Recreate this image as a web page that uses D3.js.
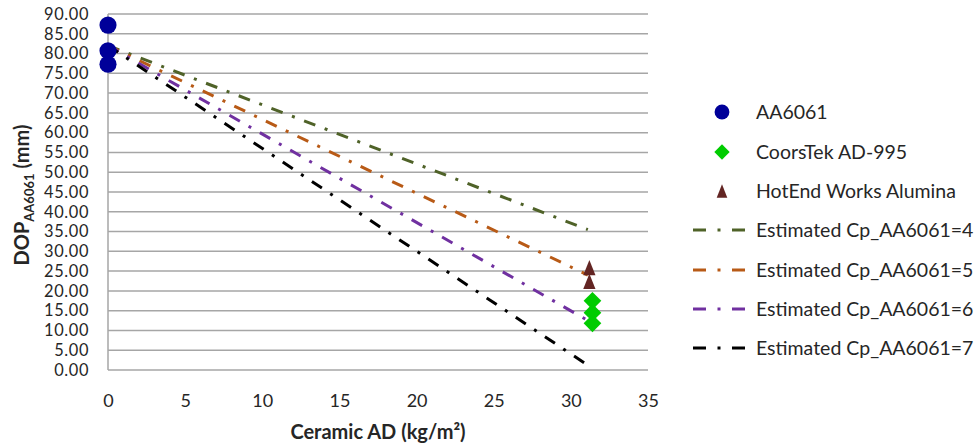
<!DOCTYPE html>
<html>
<head>
<meta charset="utf-8">
<script src="https://cdn.jsdelivr.net/npm/d3@7"></script>
<style>
  body { margin: 0; background: #fff; }
  svg { font-family: Lato, "Open Sans", sans-serif; }
</style>
</head>
<body>
<svg id="chart"></svg>
<script>
// measured data
var aa6061X = [0, 0, 0];
var aa6061Y = [87.2, 80.7, 77.3];
var coorsX = [31.4, 31.4, 31.4];
var coorsY = [17.5, 14.5, 11.8];
var hotendX = [31.2, 31.2];
var hotendY = [25.9, 22.4];

// estimated lines: start and end
var estX = [0, 31.1];
var est4 = [82, 35.5];
var est5 = [82, 24.0];
var est6 = [82, 12.5];
var est7 = [82, 1.2];

var xTicks = [0, 5, 10, 15, 20, 25, 30, 35];
var yTicks = d3.range(0, 91, 5);

var w = 979;
var h = 446;

var svg = d3.select("#chart")
    .attr("width", w)
    .attr("height", h);

svg.append("rect").attr("width", w).attr("height", h).attr("fill", "#fff");

var x = d3.scaleLinear().domain([0, 35]).range([108, 648]);
var y = d3.scaleLinear().domain([0, 90]).range([370, 14]);

// gridlines
svg.append("g")
    .selectAll("line")
    .data(yTicks)
    .enter()
    .append("line")
    .attr("x1", x(0))
    .attr("x2", x(35))
    .attr("y1", function (d) { return y(d); })
    .attr("y2", function (d) { return y(d); })
    .style("stroke", "#a6a6a6")
    .style("stroke-width", 1.5);

// left axis line
svg.append("line")
    .attr("x1", x(0)).attr("x2", x(0))
    .attr("y1", y(0)).attr("y2", y(90))
    .style("stroke", "#a6a6a6")
    .style("stroke-width", 1.5);

// axes
var xAxis = svg.append("g")
    .attr("transform", "translate(0," + y(0) + ")")
    .call(d3.axisBottom(x).tickValues(xTicks).tickSize(0).tickPadding(24));
var yAxis = svg.append("g")
    .attr("transform", "translate(" + x(0) + ",0)")
    .call(d3.axisLeft(y).tickValues(yTicks).tickFormat(d3.format(".2f")).tickSize(0).tickPadding(19));

xAxis.select(".domain").remove();
yAxis.select(".domain").remove();
xAxis.selectAll("text")
    .style("font-family", "Lato, sans-serif")
    .style("font-size", "18px")
    .style("fill", "#262626");
yAxis.selectAll("text")
    .style("font-family", "Lato, sans-serif")
    .style("font-size", "16.4px")
    .style("letter-spacing", "0.6px")
    .style("fill", "#262626");

// estimated lines
var lineSeries = [
    { name: "Estimated Cp_AA6061=4", vals: est4, color: "#4f6228" },
    { name: "Estimated Cp_AA6061=5", vals: est5, color: "#b85a16" },
    { name: "Estimated Cp_AA6061=6", vals: est6, color: "#7030a0" },
    { name: "Estimated Cp_AA6061=7", vals: est7, color: "#000000" }
];
var dash = "12,10,3,10";

var line = d3.line()
    .x(function (d) { return x(d[0]); })
    .y(function (d) { return y(d[1]); });

lineSeries.forEach(function (s) {
    var pts = estX.map(function (v, i) { return [v, s.vals[i]]; });
    svg.append("path")
        .datum(pts)
        .attr("d", line)
        .style("fill", "none")
        .style("stroke", s.color)
        .style("stroke-width", 3)
        .style("stroke-dasharray", dash);
});

// isosceles triangle symbol
var triType = {
    draw: function (ctx, size) {
        var hw = Math.sqrt(size) / 2;
        ctx.moveTo(0, -hw * 1.25);
        ctx.lineTo(hw, hw * 1.25);
        ctx.lineTo(-hw, hw * 1.25);
        ctx.closePath();
    }
};

var markers = [
    { name: "AA6061", xs: aa6061X, ys: aa6061Y, color: "#000099", type: d3.symbolCircle, size: 230 },
    { name: "CoorsTek AD-995", xs: coorsX, ys: coorsY, color: "#00cc00", type: d3.symbolDiamond2, size: 200 },
    { name: "HotEnd Works Alumina", xs: hotendX, ys: hotendY, color: "#632523", type: triType, size: 150 }
];

markers.forEach(function (m) {
    svg.append("g")
        .selectAll("path")
        .data(m.ys)
        .enter()
        .append("path")
        .attr("d", d3.symbol().type(m.type).size(m.size))
        .attr("transform", function (d, i) { return "translate(" + x(m.xs[i]) + "," + y(d) + ")"; })
        .style("fill", m.color);
});

// legend
var legend = svg.append("g");
var rowY = [112, 152, 191, 230, 270, 309, 348];

markers.forEach(function (m, i) {
    legend.append("path")
        .attr("d", d3.symbol().type(m.type).size(m.size * 0.75))
        .attr("transform", "translate(722," + rowY[i] + ")")
        .style("fill", m.color);
    legend.append("text")
        .attr("x", 756).attr("y", rowY[i])
        .attr("dy", "0.35em")
        .style("font-size", "19.5px")
        .style("fill", "#262626")
        .text(m.name);
});

lineSeries.forEach(function (s, i) {
    var ly = rowY[i + 3];
    legend.append("line")
        .attr("x1", 693).attr("x2", 746)
        .attr("y1", ly).attr("y2", ly)
        .style("stroke", s.color)
        .style("stroke-width", 3)
        .style("stroke-dasharray", "13,11.5,3,11.5");
    legend.append("text")
        .attr("x", 756).attr("y", ly)
        .attr("dy", "0.35em")
        .style("font-size", "19.5px")
        .style("fill", "#262626")
        .text(s.name);
});

// axis titles
svg.append("text")
    .attr("x", 378).attr("y", 439)
    .attr("text-anchor", "middle")
    .style("font-weight", "bold")
    .style("font-size", "20px")
    .style("fill", "#262626")
    .text("Ceramic AD (kg/m²)");

var yt = svg.append("text")
    .attr("transform", "translate(29,195) rotate(-90)")
    .attr("text-anchor", "middle")
    .style("font-weight", "bold")
    .style("font-size", "20px")
    .style("fill", "#262626");
yt.append("tspan").text("DOP");
yt.append("tspan").attr("dy", 5).style("font-size", "13px").text("AA6061");
yt.append("tspan").attr("dy", -5).text(" (mm)");
</script>
</body>
</html>
